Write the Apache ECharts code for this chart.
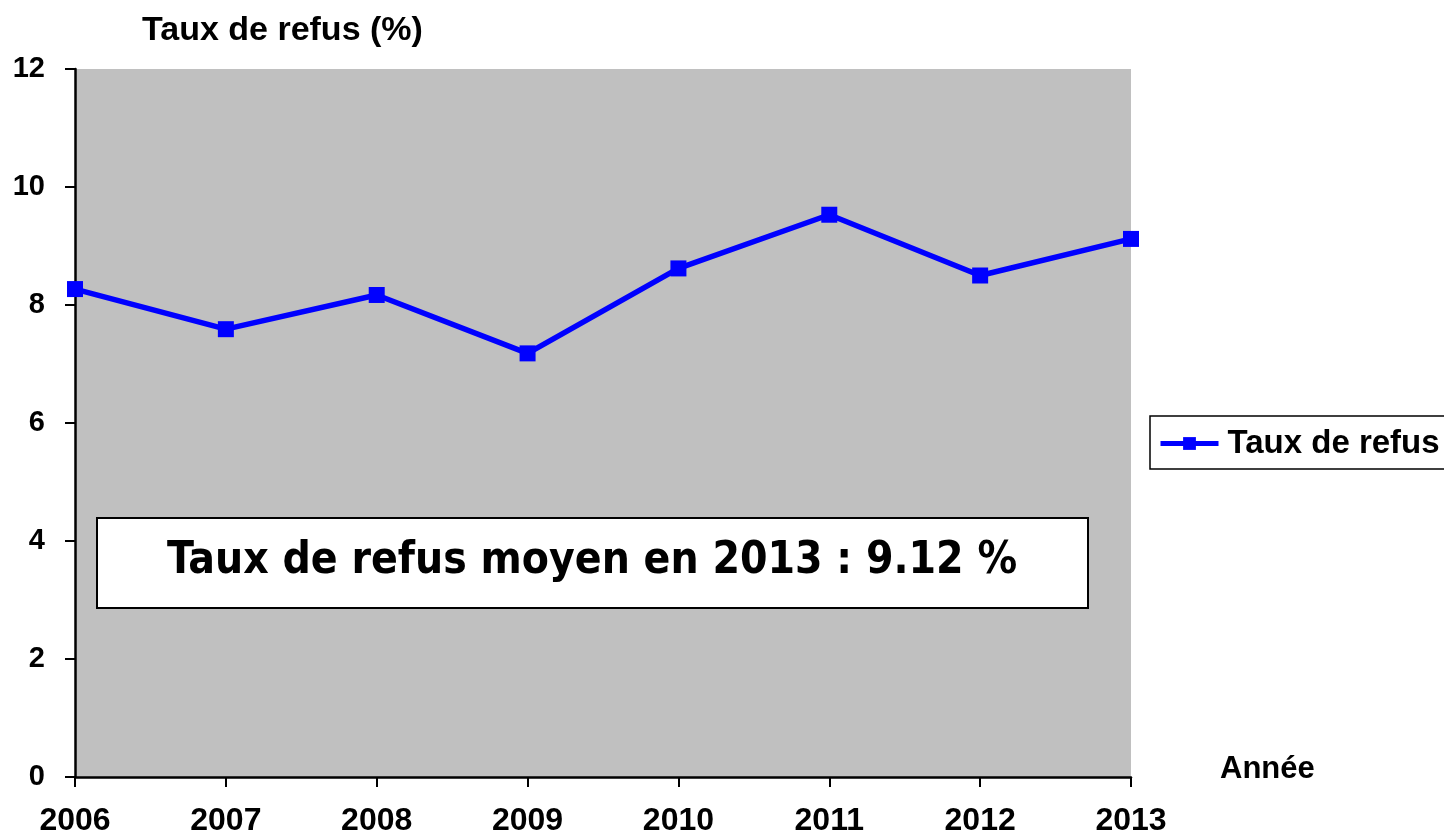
<!DOCTYPE html>
<html>
<head>
<meta charset="utf-8">
<script src="https://cdn.jsdelivr.net/npm/echarts@6/dist/echarts.min.js"></script>
<style>
  html, body { margin: 0; padding: 0; background: #fff; }
  #chart { width: 1444px; height: 837px; }
</style>
</head>
<body>
<div id="chart"></div>
<script>
// données
var years = ['2006', '2007', '2008', '2009', '2010', '2011', '2012', '2013'];
var tauxRefus = [8.27, 7.59, 8.17, 7.18, 8.62, 9.53, 8.50, 9.12];
var yTicks = { min: 0, max: 12, interval: 2 };
var noteText = 'Taux de refus moyen en 2013 : 9.12 %';

var chart = echarts.init(document.getElementById('chart'));

var option = {
    animation: false,
    textStyle: { fontFamily: 'Liberation Sans, Arial, sans-serif' },
    grid: {
        left: 75, right: 313, top: 69, bottom: 59,
        show: true,
        backgroundColor: '#c0c0c0',
        borderWidth: 0
    },
    legend: {
        data: ['Taux de refus'],
        left: 1150, top: 416,
        orient: 'vertical',
        borderColor: '#000', borderWidth: 1.5,
        padding: [11, 20, 9, 8],
        itemWidth: 58, itemHeight: 16,
        lineStyle: { width: 5 },
        textStyle: { fontSize: 33, fontWeight: 'bold', color: '#000',
            fontFamily: 'Liberation Sans, Arial, sans-serif', padding: [0, 0, 0, 4] }
    },
    xAxis: {
        type: 'category',
        data: years,
        boundaryGap: false,
        name: 'Année',
        nameLocation: 'end',
        nameGap: 0,
        nameTextStyle: { fontSize: 31, fontWeight: 'bold', color: '#000',
            align: 'left', verticalAlign: 'bottom', padding: [0, 0, -8, 89] },
        axisLine: { lineStyle: { color: '#000', width: 2.5 } },
        axisTick: { show: true, length: 10, lineStyle: { color: '#000', width: 2 } },
        axisLabel: { fontSize: 32, fontWeight: 'bold', color: '#000', margin: 28 },
        splitLine: { show: false }
    },
    yAxis: {
        type: 'value',
        min: yTicks.min, max: yTicks.max, interval: yTicks.interval,
        name: 'Taux de refus (%)',
        nameLocation: 'end',
        nameGap: 38,
        nameTextStyle: { fontSize: 34, fontWeight: 'bold', color: '#000',
            align: 'left', verticalAlign: 'middle', padding: [0, 0, 0, 67] },
        axisLine: { show: true, lineStyle: { color: '#000', width: 2.5 } },
        axisTick: { show: true, length: 10, lineStyle: { color: '#000', width: 2 } },
        axisLabel: { fontSize: 29, fontWeight: 'bold', color: '#000', margin: 30 },
        splitLine: { show: false }
    },
    series: [{
        name: 'Taux de refus',
        type: 'line',
        data: tauxRefus,
        color: '#0000ff',
        symbol: 'rect',
        symbolSize: 16,
        lineStyle: { width: 5.5, color: '#0000ff' },
        itemStyle: { color: '#0000ff' },
        clip: false
    }],
    graphic: [{
        type: 'group',
        left: 96, top: 517,
        children: [{
            type: 'rect',
            shape: { x: 0, y: 0, width: 991, height: 90 },
            style: { fill: '#fff', stroke: '#000', lineWidth: 2 }
        }, {
            type: 'text',
            x: 495, y: 44,
            style: {
                text: noteText,
                fill: '#000',
                font: 'bold 44px "DejaVu Sans Condensed", "DejaVu Sans", sans-serif',
                align: 'center',
                verticalAlign: 'middle'
            }
        }]
    }]
};

chart.setOption(option);
</script>
</body>
</html>
